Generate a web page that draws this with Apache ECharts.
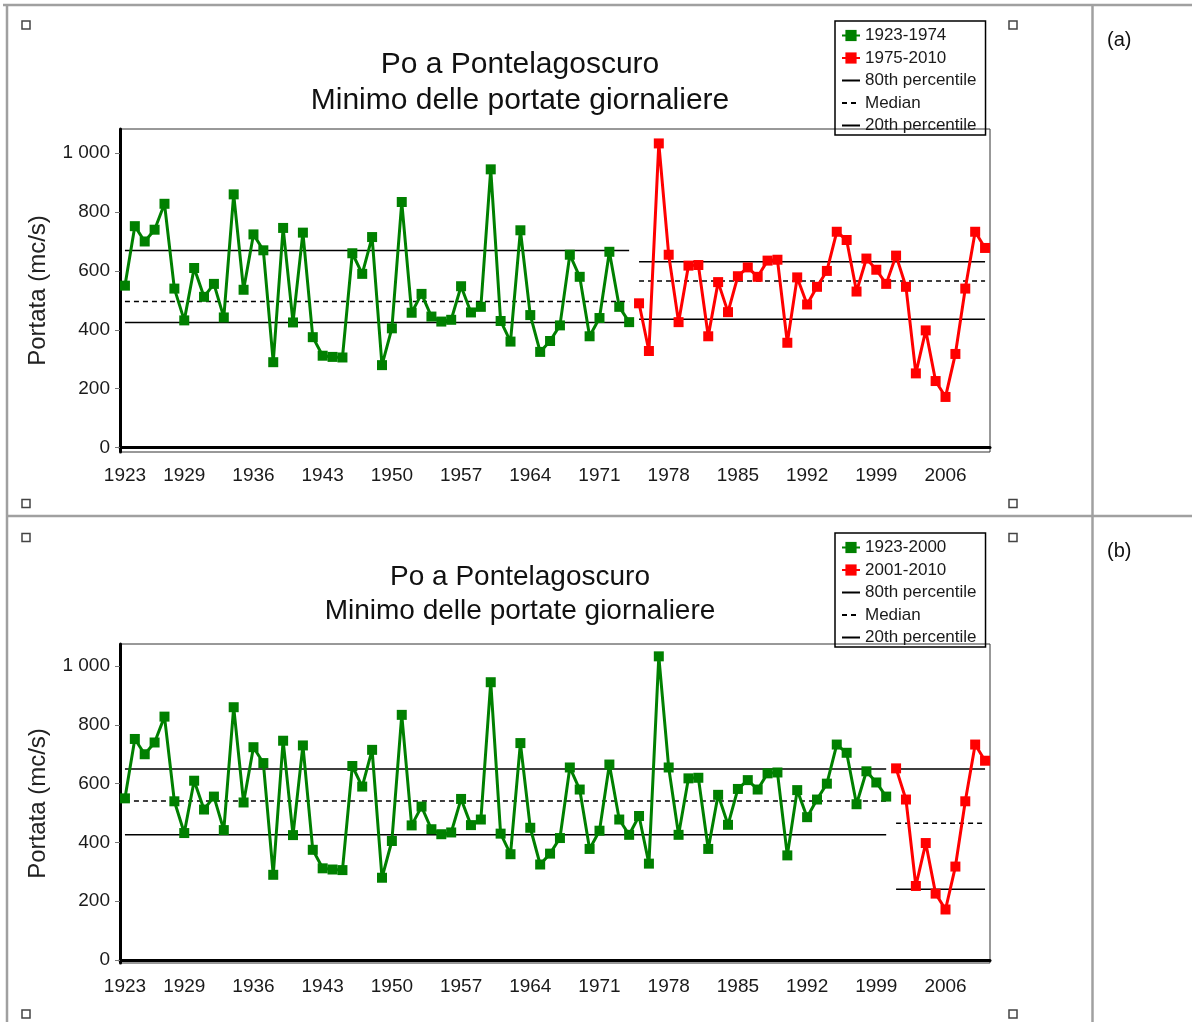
<!DOCTYPE html>
<html>
<head>
<meta charset="utf-8">
<script src="https://cdn.jsdelivr.net/npm/echarts@6/dist/echarts.min.js"></script>
<style>
  html, body { margin: 0; padding: 0; background: #fff; }
  #chart { width: 1192px; height: 1022px; }
</style>
</head>
<body>
<div id="chart"></div>
<script>
// anni (categorie)
const years = [
  1923, 1924, 1925, 1926, 1927, 1928, 1929, 1930, 1931, 1932,
  1933, 1934, 1935, 1936, 1937, 1938, 1939, 1940, 1941, 1942,
  1943, 1944, 1945, 1946, 1947, 1948, 1949, 1950, 1951, 1952,
  1953, 1954, 1955, 1956, 1957, 1958, 1959, 1960, 1961, 1962,
  1963, 1964, 1965, 1966, 1967, 1968, 1969, 1970, 1971, 1972,
  1973, 1974, 1975, 1976, 1977, 1978, 1979, 1980, 1981, 1982,
  1983, 1984, 1985, 1986, 1987, 1988, 1989, 1990, 1991, 1992,
  1993, 1994, 1995, 1996, 1997, 1998, 1999, 2000, 2001, 2002,
  2003, 2004, 2005, 2006, 2007, 2008, 2009, 2010
];

// minimo delle portate giornaliere (mc/s)
const minFlow = [
  550, 752, 700, 740, 828, 540, 432, 610, 512, 556,
  442, 860, 536, 724, 670, 290, 746, 425, 730, 375,
  312, 308, 306, 660, 590, 715, 280, 405, 834, 458,
  522, 445, 428, 434, 548, 459, 478, 945, 430, 360,
  738, 450, 325, 362, 415, 655, 580, 378, 440, 665,
  478, 426, 490, 328, 1033, 655, 426, 618, 620, 378,
  562, 460, 582, 612, 580, 635, 638, 356, 578, 486,
  546, 600, 733, 705, 530, 642, 604, 556, 652, 546,
  252, 398, 226, 172, 318, 540, 733, 678
];

// percentili [80th, mediana, 20th]
const pctA1 = [669, 496, 425];   // 1923-1974
const pctA2 = [631, 566, 436];   // 1975-2010
const pctB1 = [650, 541, 426];   // 1923-2000
const pctB2 = [650, 465, 241];   // 2001-2010

const yTicks = [0, 200, 400, 600, 800, 1000];
const xLabelYears = [1923, 1929, 1936, 1943, 1950, 1957, 1964, 1971, 1978, 1985, 1992, 1999, 2006];

const pctNames = ['80th percentile', 'Median', '20th percentile'];
const titleText = 'Po a Pontelagoscuro\nMinimo delle portate giornaliere';
const font = 'Liberation Sans, Arial, sans-serif';

const segment = (from, to) => years.map((y, i) => (y >= from && y <= to ? minFlow[i] : null));
const flat = (v, from, to) => years.map(y => (y >= from && y <= to ? v : null));

const panels = [
  { top: 129, height: 323, yMin: -15, yMax: 1082, titleTop: 47, titleSize: 30, legendTop: 21,
    periods: [['1923-1974', 1923, 1974, '#008000', pctA1], ['1975-2010', 1975, 2010, '#ff0000', pctA2]] },
  { top: 644, height: 319, yMin: -10, yMax: 1075, titleTop: 560, titleSize: 28, legendTop: 533,
    periods: [['1923-2000', 1923, 2000, '#008000', pctB1], ['2001-2010', 2001, 2010, '#ff0000', pctB2]] }
];

const option = {
  animation: false,
  backgroundColor: '#fff',
  textStyle: { fontFamily: font },
  title: [], grid: [], xAxis: [], yAxis: [], legend: [], series: []
};

panels.forEach((p, k) => {
  option.title.push({
    text: titleText, left: 520, top: p.titleTop, padding: 0, textAlign: 'center',
    textStyle: { fontSize: p.titleSize, fontWeight: 'normal', color: '#111', lineHeight: p.titleSize + 6, fontFamily: font }
  });
  option.grid.push({
    left: 120, top: p.top, width: 870, height: p.height,
    show: true, borderColor: '#333', borderWidth: 1, backgroundColor: '#fff'
  });
  option.xAxis.push({
    type: 'category', gridIndex: k, data: years, boundaryGap: true,
    axisLine: { lineStyle: { color: '#000', width: 3 } },
    axisTick: { alignWithLabel: true, interval: 0, length: 5, lineStyle: { color: '#777' } },
    axisLabel: {
      interval: (i, v) => xLabelYears.includes(+v),
      fontSize: 19, color: '#1a1a1a', margin: 14, fontFamily: font
    },
    splitLine: { show: false }
  });
  option.yAxis.push({
    type: 'value', gridIndex: k, min: p.yMin, max: p.yMax,
    name: 'Portata (mc/s)', nameLocation: 'middle', nameGap: 70,
    nameTextStyle: { fontSize: 24, color: '#222', fontFamily: font },
    axisLine: { show: true, lineStyle: { color: '#000', width: 3 } },
    axisTick: { show: true, length: 5, customValues: yTicks, lineStyle: { color: '#777' } },
    axisLabel: {
      customValues: yTicks, fontSize: 19, color: '#1a1a1a', margin: 10, fontFamily: font,
      formatter: v => String(v).replace(/\B(?=(\d{3})+(?!\d))/g, ' ')
    },
    splitLine: { show: false }
  });
  option.legend.push({
    orient: 'vertical', left: 835, top: p.legendTop,
    padding: [6, 9, 1, 6], itemGap: 5.5, itemWidth: 18, itemHeight: 14,
    borderColor: '#000', borderWidth: 1.5, backgroundColor: 'transparent',
    selectedMode: false,
    textStyle: { fontSize: 17, color: '#1a1a1a', fontFamily: font },
    data: [p.periods[0][0], p.periods[1][0]].concat(
      pctNames.map(n => ({ name: n, itemStyle: { opacity: 0 } }))
    )
  });

  p.periods.forEach(([name, from, to, color, pct]) => {
    pct.forEach((v, j) => {
      option.series.push({
        name: pctNames[j], type: 'line', xAxisIndex: k, yAxisIndex: k,
        data: flat(v, from, to), symbol: 'none', silent: true, z: 1,
        lineStyle: { color: '#000', width: 1.5, type: j === 1 ? [5, 4] : 'solid' },
        itemStyle: { color: '#000' }
      });
    });
  });
  p.periods.forEach(([name, from, to, color]) => {
    option.series.push({
      name: name, type: 'line', xAxisIndex: k, yAxisIndex: k,
      data: segment(from, to), symbol: 'rect', symbolSize: 10, showAllSymbol: true, z: 3,
      lineStyle: { color: color, width: 3 },
      itemStyle: { color: color }
    });
  });
});

// cornice della tabella e marcatori
const gray = '#a0a0a0';
const line = (x1, y1, x2, y2) => ({ type: 'line', shape: { x1, y1, x2, y2 }, style: { stroke: gray, lineWidth: 2.5 }, z: 0 });
const box = (cx, cy) => ({ type: 'rect', shape: { x: cx - 4, y: cy - 4, width: 8, height: 8 }, style: { fill: '#fff', stroke: '#444', lineWidth: 1.5 }, z: 10 });
option.graphic = [
  line(3, 5, 1192, 5),
  line(7, 5, 7, 1022),
  line(7, 516, 1192, 516),
  line(1092.5, 5, 1092.5, 1022),
  box(26, 25), box(1013, 25), box(26, 503.5), box(1013, 503.5),
  box(26, 537.5), box(1013, 537.5), box(26, 1014), box(1013, 1014),
  { type: 'text', x: 1107, y: 40, style: { text: '(a)', fontSize: 20, fill: '#111', fontFamily: font, verticalAlign: 'middle' } },
  { type: 'text', x: 1107, y: 551, style: { text: '(b)', fontSize: 20, fill: '#111', fontFamily: font, verticalAlign: 'middle' } }
];

const myChart = echarts.init(document.getElementById('chart'));
myChart.setOption(option);
</script>
</body>
</html>
